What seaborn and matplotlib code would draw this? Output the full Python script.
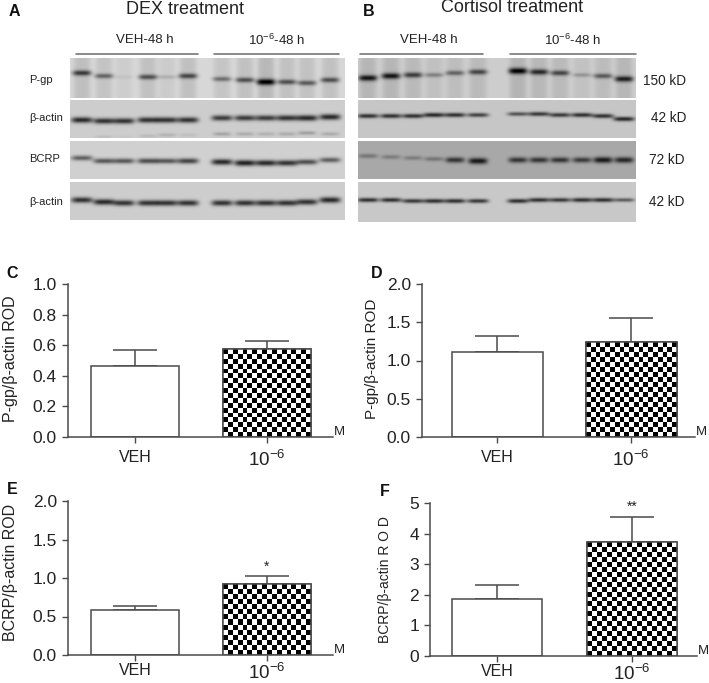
import numpy as np
import pandas as pd
import seaborn as sns
import matplotlib.pyplot as plt

W, H = 709, 683
groups = ["VEH", "10$^{-6}$"]

# bar values and upper error ends
c_means = [0.465, 0.575]
c_tops = [0.57, 0.63]
d_means = [1.11, 1.24]
d_tops = [1.32, 1.56]
e_means = [0.58, 0.92]
e_tops = [0.64, 1.02]
f_means = [1.86, 3.72]
f_tops = [2.32, 4.55]

# blot lanes (pixel x) and band y / strength per row
a_lanes = [82, 104, 124, 148, 167, 188, 222, 245, 266, 287, 307, 330]
b_lanes = [368, 391, 413, 434, 455, 478, 518, 539, 560, 582, 603, 624]
a_pgp_y = [73, 76, 77, 77, 77, 76, 79, 80, 82, 82, 83, 80]
a_pgp = [0.7, 0.5, 0.06, 0.6, 0.15, 0.65, 0.45, 0.6, 1.0, 0.6, 0.55, 0.6]
a_act1_y = [120, 121, 121, 120, 120, 120, 118, 118, 118, 118, 118, 117]
a_act1 = [0.9, 0.85, 0.85, 0.85, 0.85, 0.85, 0.8, 0.8, 0.8, 0.85, 0.9, 0.9]
a_low_y = [137, 137, 137, 136, 135, 135, 134, 134, 134, 134, 133, 134]
a_low = [0.0, 0.08, 0.03, 0.1, 0.14, 0.08, 0.22, 0.18, 0.15, 0.18, 0.25, 0.18]
a_bcrp_y = [158, 161, 161, 161, 161, 161, 162, 163, 163, 163, 162, 160]
a_bcrp = [0.6, 0.65, 0.65, 0.7, 0.65, 0.75, 0.9, 0.95, 0.9, 0.85, 0.7, 0.6]
a_act2_y = [200, 202, 203, 203, 203, 203, 203, 203, 203, 203, 202, 200]
a_act2 = [0.85, 0.9, 0.85, 0.85, 0.85, 0.85, 0.85, 0.85, 0.85, 0.85, 0.85, 0.9]
b_pgp_y = [78, 76, 75, 75, 73, 72, 71, 72, 73, 75, 76, 79]
b_pgp = [0.9, 0.9, 0.7, 0.35, 0.5, 0.65, 1.0, 0.8, 0.65, 0.25, 0.55, 0.85]
b_act1_y = [116, 116, 116, 115, 115, 115, 114, 114, 115, 115, 116, 119]
b_act1 = [0.85, 0.85, 0.85, 0.9, 0.85, 0.75, 0.65, 0.8, 0.8, 0.85, 0.85, 0.9]
b_bcrp_y = [156, 157, 158, 159, 160, 161, 160, 160, 160, 160, 160, 160]
b_bcrp = [0.35, 0.3, 0.3, 0.35, 0.8, 1.0, 0.8, 0.8, 0.8, 0.75, 1.0, 0.9]
b_act2_y = [200, 200, 201, 201, 201, 201, 201, 200, 200, 200, 200, 200]
b_act2 = [0.85, 0.85, 0.8, 0.85, 0.85, 0.8, 0.85, 0.85, 0.8, 0.85, 0.85, 0.6]

row_labels = ["P-gp", "β-actin", "BCRP", "β-actin"]
kd_labels = ["150 kD", "42 kD", "72 kD", "42 kD"]

sns.set_theme(style="ticks")
plt.rcParams["font.family"] = ["Liberation Sans"]
plt.rcParams["mathtext.fontset"] = "custom"
plt.rcParams["mathtext.rm"] = "Liberation Sans"
plt.rcParams["mathtext.default"] = "rm"
plt.rcParams["font.size"] = 10

ink = "#4a4a4a"

fig = plt.figure(figsize=(W / 100, H / 100), dpi=100)


def px_axes(left, top, right, bottom):
    return fig.add_axes([left / W, 1 - bottom / H, (right - left) / W, (bottom - top) / H])


def blot(left, top, right, bottom, lanes, ys, strengths, bg, smear=0.0, thick=2.6, half=10.5, low=None):
    ax = px_axes(left, top, right, bottom)
    xx, yy = np.meshgrid(np.arange(left, right) + 0.5, np.arange(top, bottom) + 0.5)
    img = np.full(xx.shape, float(bg))
    for x, y, s in zip(lanes, ys, strengths):
        img -= smear * (0.4 + s) * np.exp(-((xx - x) / 8.5) ** 4)
        img -= s * (bg - 25) * np.exp(-((xx - x) / half) ** 4 - ((yy - y) / (thick * (0.7 + 0.5 * s))) ** 2)
    if low is not None:
        for x, y, s in zip(lanes, low[0], low[1]):
            img -= s * (bg - 25) * np.exp(-((xx - x) / 9.0) ** 4 - ((yy - y) / 2.0) ** 2)
    sns.heatmap(img, ax=ax, cmap="gray", vmin=0, vmax=255, cbar=False,
                xticklabels=False, yticklabels=False, rasterized=True)
    ax.tick_params(length=0)
    return ax


def bars(left, right, top, bottom, x0, x1, bar_w, means, tops, ymax, ticks, ylabel, label_x,
         label_size=11.5, tick_size=12.5, pad=5, label_dy=0):
    ax = px_axes(left, top, right, bottom)
    df = pd.DataFrame({"group": groups, "rod": means})
    unit = x1 - x0
    sns.barplot(data=df, x="group", y="rod", ax=ax, color="white", saturation=1,
                width=bar_w / unit, edgecolor=ink, linewidth=1.1, zorder=2)
    ax.errorbar([0, 1], means, yerr=[[0, 0], np.array(tops) - np.array(means)], fmt="none",
                ecolor=ink, elinewidth=1.1, capsize=16, capthick=1.1, zorder=1)
    ax.set_yticks(ticks)
    ax.set_yticklabels([str(t) for t in ticks], fontsize=tick_size, color="#222222")
    ax.tick_params(axis="y", length=4, width=1, color=ink, pad=4)
    ax.tick_params(axis="x", length=4, width=1, color=ink, pad=pad, labelcolor="#222222")
    ax.get_xticklabels()[0].set_fontsize(11.5)
    ax.get_xticklabels()[1].set_fontsize(13.5)
    ax.set_xlabel("")
    ax.set_ylabel("")
    for side in ["top", "right"]:
        ax.spines[side].set_visible(False)
    for side in ["left", "bottom"]:
        ax.spines[side].set_color(ink)
        ax.spines[side].set_linewidth(1.1)

    # checkerboard fill for the treated bar
    patch = ax.patches[1]
    cell = 4.9
    n_x = int(round((patch.get_width() * unit) / cell))
    n_y = max(1, int(round(means[1] / ymax * (bottom - top) / cell)))
    board = np.indices((n_y, n_x)).sum(axis=0) % 2
    ax.imshow(board, cmap="gray", interpolation="nearest", aspect="auto", zorder=2.5,
              extent=[patch.get_x(), patch.get_x() + patch.get_width(), 0, means[1]])
    ax.add_patch(plt.Rectangle((patch.get_x(), 0), patch.get_width(), means[1], fill=False,
                               edgecolor=ink, linewidth=1.1, zorder=3))
    ax.set_xlim((left - x0) / unit, (right - x0) / unit)
    ax.set_ylim(0, ymax)

    fig.text((right + 1) / W, 1 - (bottom - 5) / H, "M", fontsize=9.5, color="#222222", va="center")
    fig.text(label_x / W, 1 - ((top + bottom) / 2 + label_dy) / H, ylabel, rotation=90, fontsize=label_size,
             color="#222222", ha="center", va="center")
    return ax


# blots
blot(70, 58, 345, 98, a_lanes, a_pgp_y, a_pgp, 215, smear=22, half=9.5)
blot(70, 100, 345, 138, a_lanes, a_act1_y, a_act1, 205, low=(a_low_y, a_low))
blot(70, 141, 345, 179, a_lanes, a_bcrp_y, a_bcrp, 208)
blot(70, 182, 345, 220, a_lanes, a_act2_y, a_act2, 205)
blot(358, 58, 636, 98, b_lanes, b_pgp_y, b_pgp, 205, smear=18, half=9.5)
blot(358, 100, 636, 138, b_lanes, b_act1_y, b_act1, 198, thick=2.0)
blot(358, 141, 636, 179, b_lanes, b_bcrp_y, b_bcrp, 168, half=9.5)
blot(358, 182, 636, 222, b_lanes, b_act2_y, b_act2, 200, thick=2.0)

# all page text and rules in one pixel-space overlay
over = fig.add_axes([0, 0, 1, 1], zorder=5)
over.set_xlim(0, W)
over.set_ylim(H, 0)
over.axis("off")

for x, y, s in [(14, 12, "A"), (369, 11, "B"), (12, 273, "C"), (377, 273, "D"), (12, 490, "E"), (385, 492, "F")]:
    over.text(x, y, s, fontsize=11.5, fontweight="bold", ha="center", va="center", color="#111111")

over.text(185, 9, "DEX treatment", fontsize=13, ha="center", va="center", color="#222222")
over.text(512, 8, "Cortisol treatment", fontsize=13, ha="center", va="center", color="#222222")

for x0, x1, tx, s in [(76, 198, 145, "VEH-48 h"), (214, 339, 277, "10$^{-6}$-48 h"),
                      (360, 483, 429, "VEH-48 h"), (510, 636, 573, "10$^{-6}$-48 h")]:
    over.plot([x0, x1], [53.5, 53.5], color="#777777", lw=1.2)
    over.text(tx, 40, s, fontsize=9.5, ha="center", va="center", color="#222222")

for y, s in zip([80, 118, 159, 202], row_labels):
    over.text(29, y, s, fontsize=8, va="center", color="#222222")
for x, y, s in zip([643, 651, 649, 649], [81, 118, 160, 202], kd_labels):
    over.text(x, y, s, fontsize=9.8, va="center", color="#222222")

bars(68, 333, 284, 437, 135, 267, 88, c_means, c_tops, 1.0, [0.0, 0.2, 0.4, 0.6, 0.8, 1.0],
     "P-gp/β-actin ROD", 11, label_dy=-2)
bars(422, 695, 284, 437, 497, 631, 91, d_means, d_tops, 2.0, [0.0, 0.5, 1.0, 1.5, 2.0],
     "P-gp/β-actin ROD", 372, label_size=11, label_dy=-2)
ax_e = bars(68, 333, 501, 655, 135, 267, 88, e_means, e_tops, 2.0, [0.0, 0.5, 1.0, 1.5, 2.0],
            "BCRP/β-actin ROD", 11, pad=2, label_dy=-6)
ax_f = bars(430, 697, 503, 656, 497, 632, 90, f_means, f_tops, 5, [0, 1, 2, 3, 4, 5],
            "BCRP/β-actin R O D", 385, label_size=10, pad=2)

ax_e.text(1, e_tops[1] + 0.03, "*", ha="center", va="bottom", fontsize=10, color="#222222")
ax_f.text(1, f_tops[1] + 0.1, "**", ha="center", va="bottom", fontsize=10, color="#222222")

fig.savefig("out.png", dpi=100)
